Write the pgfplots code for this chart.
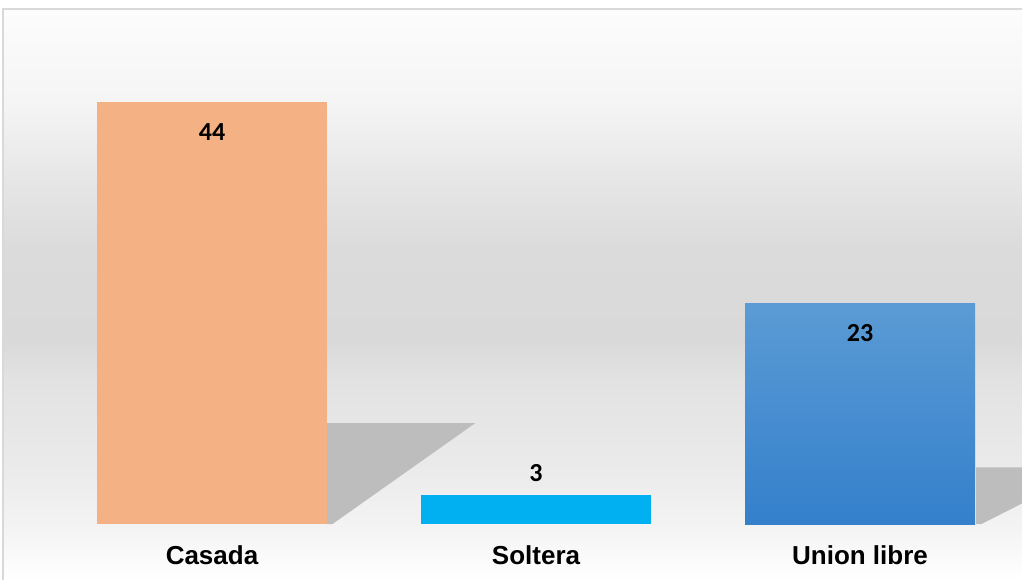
\documentclass[border=0pt]{standalone}
\usepackage{pgfplots}
\pgfplotsset{compat=1.18}
\usepackage{fontspec}
\setmainfont{Liberation Sans}
\newfontfamily\carlito{Carlito}[BoldFont={Carlito Bold}]
\definecolor{casada}{HTML}{F4B183}
\definecolor{soltera}{HTML}{00B0F0}
\definecolor{uniontop}{HTML}{5B9BD5}
\definecolor{unionbot}{HTML}{3480CB}
\definecolor{shadowc}{HTML}{BDBDBD}
\definecolor{borderc}{HTML}{D9D9D9}
\pgfdeclareverticalshading{bgshade}{100bp}{%
 color(0bp)=(white);
 color(25bp)=(white);
 color(29.9bp)=(rgb,255:red,243;green,243;blue,243);
 color(34.6bp)=(rgb,255:red,235;green,235;blue,235);
 color(42.5bp)=(rgb,255:red,226;green,226;blue,226);
 color(46bp)=(rgb,255:red,217;green,217;blue,217);
 color(53.9bp)=(rgb,255:red,219;green,219;blue,219);
 color(60bp)=(rgb,255:red,230;green,230;blue,230);
 color(67bp)=(rgb,255:red,245;green,245;blue,245);
 color(75bp)=(rgb,255:red,252;green,252;blue,252);
 color(100bp)=(rgb,255:red,252;green,252;blue,252)}
\begin{document}
\begin{tikzpicture}
\path[use as bounding box] (0,0) rectangle (511pt,290pt);
\fill[white] (0,0) rectangle (511pt,290pt);
\shade[shading=bgshade] (1.5pt,0) rectangle (511pt,285.5pt);
\draw[borderc, line width=0.8pt] (1.5pt,0) -- (1.5pt,285.5pt) -- (511pt,285.5pt);
\begin{axis}[
  at={(25pt,28pt)}, anchor=south west,
  scale only axis, width=486pt, height=240pt,
  xmin=-0.5, xmax=2.5, ymin=0, ymax=50,
  axis x line=bottom,
  hide y axis,
  x axis line style={draw=none, -},
  xtick={0,1,2},
  xticklabels={Casada,Soltera,Union libre},
  xticklabel style={anchor=center, yshift=-15.5pt, font=\fontsize{13pt}{15pt}\selectfont\bfseries},
  major tick length=0pt,
  tick style={draw=none},
  ybar, bar width=115pt, bar shift=0pt,
  clip=true,
  /pgf/number format/assume math mode=true,
  nodes near coords,
  every node near coord/.append style={font=\carlito\bfseries\fontsize{13pt}{15pt}\selectfont, text=black, anchor=center},
]
% shadows
\fill[shadowc] (axis cs:0.355,0) -- (axis cs:0.355,10.5) -- (axis cs:0.812,10.5) -- (axis cs:0.372,0) -- cycle;
\fill[shadowc] (axis cs:2.358,0) -- (axis cs:2.358,5.9) -- (axis cs:2.55,5.9) -- (axis cs:2.55,3) -- (axis cs:2.375,0) -- cycle;
\addplot[fill=casada, draw=none, every node near coord/.append style={yshift=-15pt}] coordinates {(0,44)};
\addplot[fill=soltera, draw=none, every node near coord/.append style={yshift=11pt}] coordinates {(1,3)};
\addplot[top color=uniontop, bottom color=unionbot, draw=none, every node near coord/.append style={yshift=-15pt}] coordinates {(2,23)};
\end{axis}
\end{tikzpicture}
\end{document}
